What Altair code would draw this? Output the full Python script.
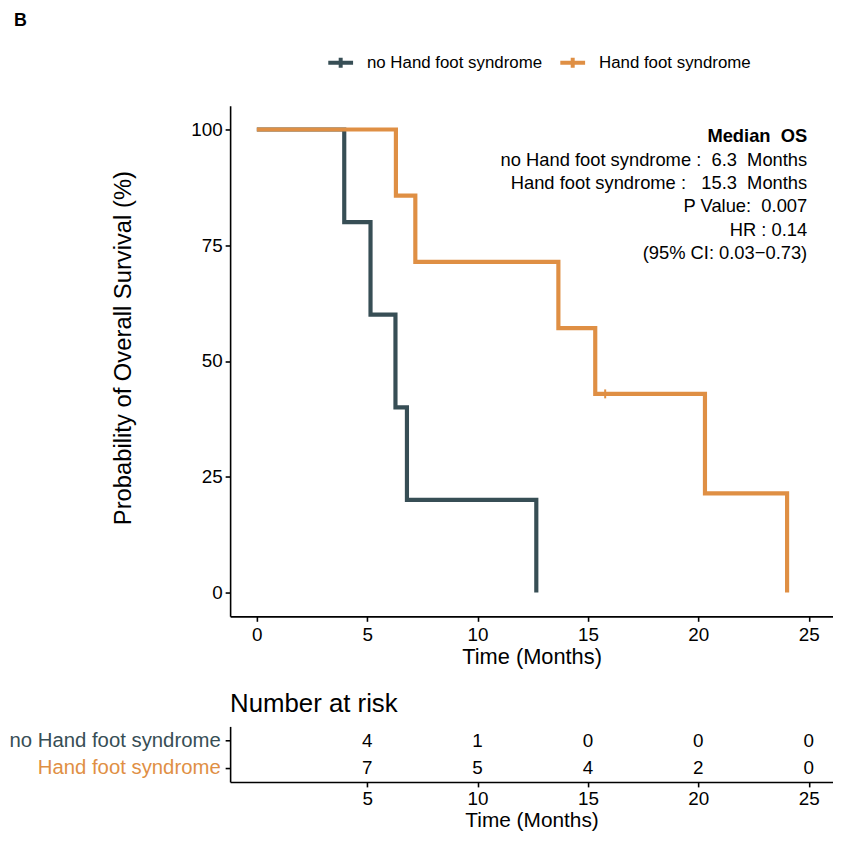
import altair as alt
import pandas as pd

# ---------------- data ----------------
groups = ["no Hand foot syndrome", "Hand foot syndrome"]
colors = ["#374E55", "#DF8F44"]

no_hfs_time = [0, 3.96, 5.15, 6.28, 6.80, 12.66]
no_hfs_surv = [100, 80, 60, 40, 20, 0]

hfs_time = [0, 6.30, 7.18, 13.66, 15.33, 20.30, 24.02]
hfs_surv = [100, 85.7, 71.4, 57.1, 42.9, 21.4, 0]

censor_time = [15.78]
censor_surv = [42.9]

x_ticks = [0, 5, 10, 15, 20, 25]
y_ticks = [0, 25, 50, 75, 100]

risk_times = [5, 10, 15, 20, 25]
risk_no_hfs = [4, 1, 0, 0, 0]
risk_hfs = [7, 5, 4, 2, 0]

annot_bold = "Median\u00a0 OS"
annot_lines = [
    "no Hand foot syndrome :\u00a0 6.3\u00a0 Months",
    "Hand foot syndrome :\u00a0\u00a0 15.3\u00a0 Months",
    "P Value:\u00a0 0.007",
    "HR : 0.14",
    "(95% CI: 0.03\u22120.73)",
]
panel_label = "B"

# ---------------- frames ----------------
df_no = pd.DataFrame({"time": no_hfs_time, "surv": no_hfs_surv, "group": groups[0]})
df_hfs = pd.DataFrame({"time": hfs_time, "surv": hfs_surv, "group": groups[1]})
df_cens = pd.DataFrame({"time": censor_time, "surv": censor_surv})
df_risk = pd.DataFrame({
    "time": risk_times * 2,
    "group": [groups[0]] * len(risk_times) + [groups[1]] * len(risk_times),
    "n": risk_no_hfs + risk_hfs,
})
one = pd.DataFrame({"k": [0]})

W = 608
H = 515
xdom = [-1.21, 26.1]
ydom = [-5.14, 105.14]

xscale = alt.Scale(domain=xdom, nice=False, zero=False)
yscale = alt.Scale(domain=ydom, nice=False, zero=False)

legend = alt.Legend(
    title=None, orient="none", direction="horizontal",
    legendX=97, legendY=-58,
    symbolType="M-1,0H1M0,-0.4V0.4", symbolSize=625, symbolStrokeWidth=4,
    labelFontSize=17, labelColor="black", labelOffset=12, columnPadding=10,
    labelLimit=0, padding=0,
)
color = alt.Color("group:N", scale=alt.Scale(domain=groups, range=colors), legend=legend)

xax = alt.Axis(values=x_ticks, title="Time (Months)", titlePadding=3, labelPadding=4)
yax = alt.Axis(values=y_ticks, title="Probability of Overall Survival (%)",
               titlePadding=56, titleFontSize=24, titleY=244)

line_no = alt.Chart(df_no).mark_line(interpolate="step-after", strokeWidth=4.2,
                                     strokeJoin="miter").encode(
    x=alt.X("time:Q", scale=xscale, axis=xax),
    y=alt.Y("surv:Q", scale=yscale, axis=yax),
    color=color,
)
line_hfs = alt.Chart(df_hfs).mark_line(interpolate="step-after", strokeWidth=4.2,
                                       strokeJoin="miter").encode(
    x=alt.X("time:Q", scale=xscale, axis=xax),
    y=alt.Y("surv:Q", scale=yscale, axis=yax),
    color=color,
)
cens = alt.Chart(df_cens).mark_point(shape="M0,-1V1", size=81, strokeWidth=2,
                                     filled=False, opacity=1).encode(
    x=alt.X("time:Q", scale=xscale),
    y=alt.Y("surv:Q", scale=yscale),
    color=alt.value(colors[1]),
)
txt_bold = alt.Chart(one).mark_text(align="right", baseline="alphabetic", fontSize=18.5,
                                    fontWeight="bold", color="black").encode(
    x=alt.value(582), y=alt.value(36.5), text=alt.value(annot_bold))
txt_lines = alt.Chart(one).mark_text(align="right", baseline="alphabetic", fontSize=18.5,
                                     lineHeight=23.5, color="black").encode(
    x=alt.value(582), y=alt.value(60.5), text=alt.value(annot_lines))
txt_b = alt.Chart(one).mark_text(align="left", baseline="middle", fontSize=18,
                                 fontWeight="bold", color="black").encode(
    x=alt.value(-218), y=alt.value(-85), text=alt.value(panel_label))

main = alt.layer(line_no, line_hfs, cens, txt_bold, txt_lines, txt_b).properties(
    width=W, height=H)

risk = alt.Chart(df_risk).mark_text(fontSize=19, color="black", baseline="middle").encode(
    x=alt.X("time:Q", scale=xscale,
            axis=alt.Axis(values=risk_times, title="Time (Months)", titlePadding=1,
                          labelPadding=3, titleFontSize=21)),
    y=alt.Y("group:N", sort=groups, scale=alt.Scale(type="point", padding=0.52),
            axis=alt.Axis(title=None, labelFontSize=20.5, labelPadding=5, labelLimit=0,
                          labelColor={"condition": {"test": "datum.label == 'Hand foot syndrome'",
                                                    "value": colors[1]},
                                      "value": colors[0]})),
    text="n:Q",
).properties(
    width=W, height=56,
    title=alt.TitleParams("Number at risk", anchor="start", frame="group", fontSize=26,
                          fontWeight="normal", offset=10, color="black"),
)

chart = alt.vconcat(main, risk, spacing=111, bounds="flush").properties(
    padding={"left": 0, "top": 1, "right": 0, "bottom": 0}
).configure(
    font="Liberation Sans"
).configure_view(
    stroke=None
).configure_axis(
    grid=False, domainColor="black", domainWidth=1.6, tickColor="black", tickWidth=1.6,
    tickSize=5, labelColor="black", labelFontSize=19, labelPadding=3,
    titleColor="black", titleFontSize=22, titleFontWeight="normal",
)

chart.save("out.html", embed_options={"renderer": "svg", "actions": False})
